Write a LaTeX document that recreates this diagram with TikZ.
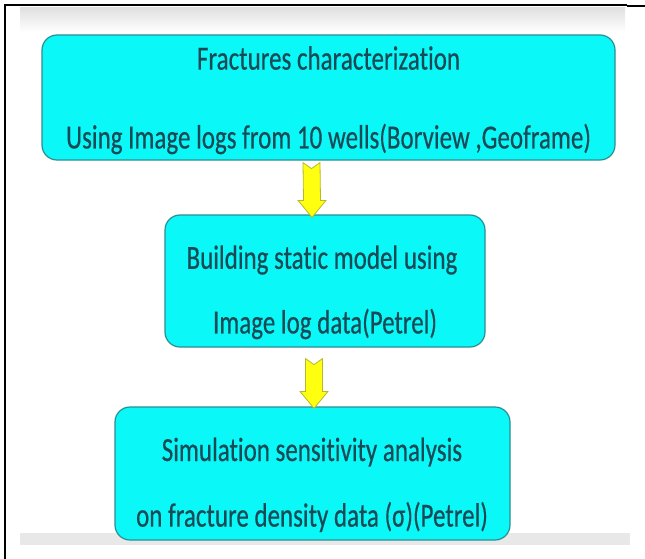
\documentclass[tikz,border=0pt]{standalone}
\usepackage{fontspec}
\setmainfont{Carlito}[Ligatures={NoCommon}, FakeBold=0.5]
\usetikzlibrary{calc}
\definecolor{boxfill}{HTML}{0AF8F8}
\definecolor{boxline}{HTML}{2A8F92}
\definecolor{txt}{HTML}{1A4A56}
\definecolor{arrfill}{HTML}{FFFF10}
\definecolor{arrline}{HTML}{B8B830}
\newcommand{\tall}[1]{\scalebox{1}[1.35]{#1}}
\tikzset{
  flowbox/.style={draw=boxline, line width=1.2pt, fill=boxfill, rounded corners=15pt, inner sep=0pt},
  boxtext/.style={text=txt, font=\fontsize{25}{30}\selectfont, inner sep=0pt, anchor=center},
  blockarrow/.style={draw=arrline, line width=0.8pt, fill=arrfill, line join=miter}
}
\begin{document}
\begin{tikzpicture}[x=1pt,y=1pt]
\useasboundingbox (0,0) rectangle (645,-559);
% slide shading bands
\shade[top color=black!12, bottom color=white] (20,-8) rectangle (625,-32);
\fill[black!9] (20,-533) rectangle (630,-545);
% frame lines
\draw[line width=1.6pt] (5,-559) -- (5,-5) -- (627,-5);
\draw[line width=1.6pt] (627,-6) -- (645,-6);
% boxes
\node[flowbox, minimum width=573pt, minimum height=125pt] (b1) at (328.5,-97.5) {};
\node[flowbox, minimum width=320pt, minimum height=132pt] (b2) at (325,-281) {};
\node[flowbox, minimum width=395pt, minimum height=133pt] (b3) at (312.5,-473.5) {};
% texts
\node[boxtext] (t1a) at (328.5,-58) {\tall{Fractures characterization}};
\node[boxtext] (t1b) at (328.5,-139) {\tall{Using Image logs from 10 wells(Borview ,Geoframe)}};
\node[boxtext] (t2a) at (322,-260) {\tall{Building static model using}};
\node[boxtext] (t2b) at (325,-324) {\tall{Image log data(Petrel)}};
\node[boxtext] (t3a) at (312,-452) {\tall{Simulation sensitivity analysis}};
\node[boxtext] (t3b) at (312,-517) {\tall{on fracture density data (σ)(Petrel)}};
% block arrows
\coordinate (a1t) at ($(b1.south)+(-17,-2)$);
\coordinate (a1b) at ($(b2.north)+(-13,-3)$);
\draw[blockarrow] ($(a1t)+(-8.5,0)$) -- ($(a1t)+(0,-6)$) -- ($(a1t)+(8.5,0)$) --
  ($(a1b)+(8.5,17)$) -- ($(a1b)+(14,17)$) -- (a1b) -- ($(a1b)+(-14,17)$) --
  ($(a1b)+(-8.5,17)$) -- cycle;
\coordinate (a2t) at ($(b2.south)+(-11,-11)$);
\coordinate (a2b) at ($(b3.north)+(1.5,-2)$);
\draw[blockarrow] ($(a2t)+(-8.5,0)$) -- ($(a2t)+(0,-6)$) -- ($(a2t)+(8.5,0)$) --
  ($(a2b)+(8.5,17)$) -- ($(a2b)+(14,17)$) -- (a2b) -- ($(a2b)+(-14,17)$) --
  ($(a2b)+(-8.5,17)$) -- cycle;
\end{tikzpicture}
\end{document}
